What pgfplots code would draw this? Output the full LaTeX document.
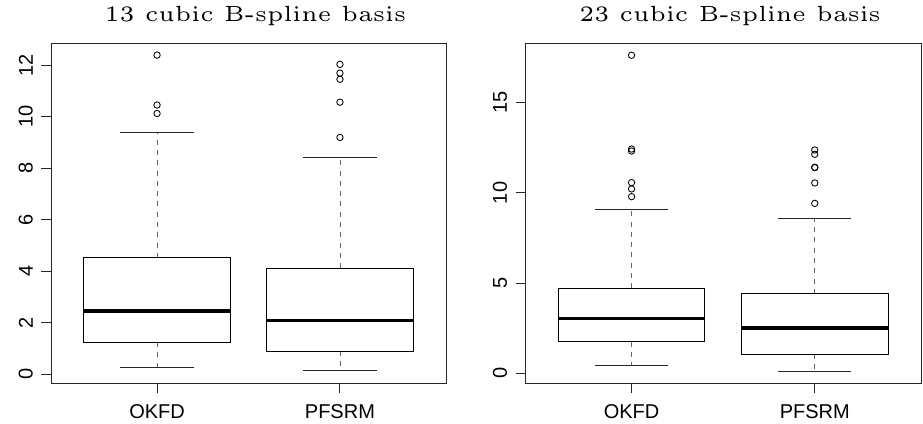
\documentclass[border=0pt]{standalone}
\usepackage{pgfplots}
\pgfplotsset{compat=1.18}
\usepgfplotslibrary{statistics}
\usepackage{fontspec}
\setmainfont{Liberation Sans}
\font\titlefont=cmr5 at 22pt
\pgfplotsset{
  rbox/.style={
    scale only axis, height=340pt,
    xmin=0.42, xmax=2.58,
    xtick={1,2}, xticklabels={OKFD,PFSRM},
    axis line style={line width=0.9pt, black!85},
    tick align=outside, major tick length=9.5pt,
    xtick pos=lower, ytick pos=left,
    tick style={line width=0.9pt, black!85},
    /pgf/number format/assume math mode=true,
    ticklabel style={font=\fontsize{20}{24}\selectfont},
    yticklabel style={rotate=90, anchor=south, inner sep=0pt, yshift=8.5pt},
    xticklabel style={anchor=north, inner sep=0pt, yshift=-12pt},
    title style={at={(0.5,1)}, anchor=base, inner sep=0pt, yshift=15.7pt, xshift=7pt},
    boxplot/draw direction=y,
    boxplot/box extend=0.8,
    boxplot/whisker extend=0.4,
    boxplot/every median/.style={line width=3.3pt, black},
    boxplot/every box/.style={line width=0.9pt, black},
    boxplot/draw/lower whisker/.code={%
      \draw[line width=0.8pt, black!60, dash pattern=on 5pt off 5.3pt]
        (boxplot cs:\pgfplotsboxplotvalue{lower quartile}) --
        (boxplot cs:\pgfplotsboxplotvalue{lower whisker});
      \draw[line width=0.9pt, black!85]
        (boxplot whisker cs:\pgfplotsboxplotvalue{lower whisker},0) --
        (boxplot whisker cs:\pgfplotsboxplotvalue{lower whisker},1);
    },
    boxplot/draw/upper whisker/.code={%
      \draw[line width=0.8pt, black!60, dash pattern=on 5pt off 5.3pt]
        (boxplot cs:\pgfplotsboxplotvalue{upper quartile}) --
        (boxplot cs:\pgfplotsboxplotvalue{upper whisker});
      \draw[line width=0.9pt, black!85]
        (boxplot whisker cs:\pgfplotsboxplotvalue{upper whisker},0) --
        (boxplot whisker cs:\pgfplotsboxplotvalue{upper whisker},1);
    },
  },
  rplot/.style={black, line width=0.9pt, mark=o, mark size=3.2pt,
    mark options={solid, line width=0.85pt}},
}
\begin{document}
\begin{tikzpicture}[x=1pt,y=1pt]
\useasboundingbox (0,0) rectangle (923,423);
\begin{axis}[rbox, at={(51pt,40pt)}, anchor=south west, width=395pt,
  ymin=-0.34, ymax=12.87, ytick={0,2,4,6,8,10,12},
  title={\titlefont 13 cubic B-spline basis}]
\addplot[rplot, boxplot prepared={draw position=1,
  lower whisker=0.26, lower quartile=1.25, median=2.46,
  upper quartile=4.52, upper whisker=9.40}]
  coordinates {(1,12.40) (1,10.46) (1,10.13)};
\addplot[rplot, boxplot prepared={draw position=2,
  lower whisker=0.13, lower quartile=0.90, median=2.10,
  upper quartile=4.12, upper whisker=8.44}]
  coordinates {(2,12.04) (2,11.70) (2,11.46) (2,10.57) (2,9.20)};
\end{axis}
\begin{axis}[rbox, at={(525.3pt,40pt)}, anchor=south west, width=395.7pt,
  ymin=-0.54, ymax=18.31, ytick={0,5,10,15},
  title={\titlefont 23 cubic B-spline basis}]
\addplot[rplot, boxplot prepared={draw position=1,
  lower whisker=0.46, lower quartile=1.74, median=3.03,
  upper quartile=4.71, upper whisker=9.09}]
  coordinates {(1,17.63) (1,12.43) (1,12.32) (1,10.57) (1,10.22) (1,9.79)};
\addplot[rplot, boxplot prepared={draw position=2,
  lower whisker=0.11, lower quartile=1.07, median=2.51,
  upper quartile=4.40, upper whisker=8.59}]
  coordinates {(2,12.38) (2,12.14) (2,11.42) (2,11.40) (2,10.55) (2,9.42)};
\end{axis}
\end{tikzpicture}
\end{document}
